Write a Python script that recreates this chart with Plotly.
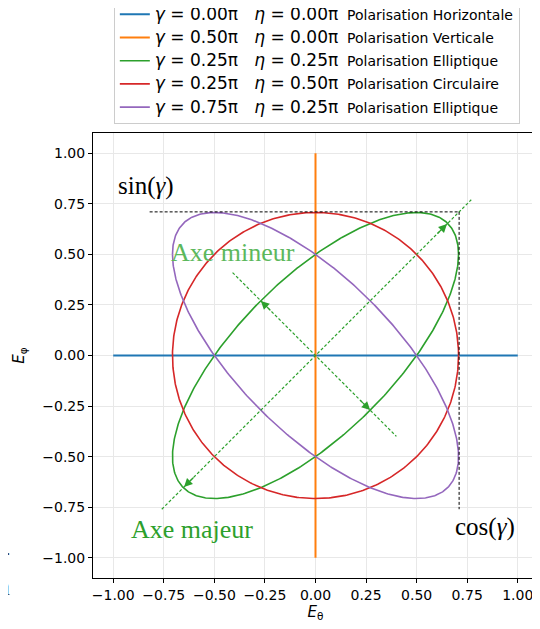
import numpy as np
import plotly.graph_objects as go

# Polarisation parameters (in units of pi)
gammas = [0.00, 0.50, 0.25, 0.25, 0.75]
etas = [0.00, 0.00, 0.25, 0.50, 0.25]
names = ["Polarisation Horizontale", "Polarisation Verticale", "Polarisation Elliptique",
         "Polarisation Circulaire", "Polarisation Elliptique"]
colors = ["#1f77b4", "#ff7f0e", "#2ca02c", "#d62728", "#9467bd"]
widths = [2, 2, 1.6, 1.6, 1.6]

# guide lines for the green ellipse
major_axis_x = [-0.76, 0.77]
major_axis_y = [-0.76, 0.77]
minor_axis_x = [-0.41, 0.40]
minor_axis_y = [0.41, -0.40]
sin_line_x = [-0.82, 0.71]
sin_line_y = [0.71, 0.71]
cos_line_x = [0.71, 0.71]
cos_line_y = [0.71, -0.76]
arrow_tips = [(0.65, 0.65), (-0.65, -0.65), (-0.27, 0.27), (0.27, -0.27)]
arrow_dirs = [(1, 1), (-1, -1), (-1, 1), (1, -1)]

ticks = [-1.0, -0.75, -0.5, -0.25, 0.0, 0.25, 0.5, 0.75, 1.0]

t = np.linspace(0, 2 * np.pi, 500)

fig = go.Figure()
for i, (g, e, name, c, w) in enumerate(zip(gammas, etas, names, colors, widths)):
    e_theta = np.cos(g * np.pi) * np.cos(t)
    e_phi = np.sin(g * np.pi) * np.cos(t + e * np.pi)
    label = (f"<span style='font-size:17px'><i>γ</i> = {g:.2f}π&nbsp;&nbsp;&nbsp;<i>η</i> = {e:.2f}π</span>"
             f"&nbsp;&nbsp;{name}")
    fig.add_trace(go.Scatter(x=e_theta, y=e_phi, mode="lines", name=label,
                             legendgroup=f"g{i}",
                             line=dict(color=c, width=w)))

green = "#2ca02c"
for xs, ys in [(major_axis_x, major_axis_y), (minor_axis_x, minor_axis_y)]:
    fig.add_trace(go.Scatter(x=xs, y=ys, mode="lines", showlegend=False,
                             line=dict(color=green, width=1.2, dash="3px,2px")))
for xs, ys in [(sin_line_x, sin_line_y), (cos_line_x, cos_line_y)]:
    fig.add_trace(go.Scatter(x=xs, y=ys, mode="lines", showlegend=False,
                             line=dict(color="black", width=1, dash="3px,2px")))

for (tx, ty), (dx, dy) in zip(arrow_tips, arrow_dirs):
    fig.add_annotation(x=tx, y=ty, ax=-dx * 11, ay=dy * 11, text="", showarrow=True,
                       arrowhead=2, arrowsize=1.4, arrowwidth=1.2, arrowcolor=green)

serif = "Liberation Serif"
fig.add_annotation(x=-0.84, y=0.84, text="sin(<i>γ</i>)", showarrow=False,
                   font=dict(family=serif, size=25, color="black"))
fig.add_annotation(x=0.84, y=-0.85, text="cos(<i>γ</i>)", showarrow=False,
                   font=dict(family=serif, size=25, color="black"))
fig.add_annotation(x=-0.41, y=0.51, text="Axe mineur", showarrow=False,
                   font=dict(family=serif, size=26, color="#5cb85c"))
fig.add_annotation(x=-0.61, y=-0.86, text="Axe majeur", showarrow=False,
                   font=dict(family=serif, size=26, color=green))

# bits of surrounding page text cut by the crop (figure starts 8px in from the page)
for txt, xp, yp in [("i-", 4, 560), ("n", 4, 595)]:
    fig.add_annotation(xref="paper", yref="paper", x=(xp - 85) / 445, y=(570 - yp) / 445,
                       xanchor="right", text=txt, showarrow=False,
                       font=dict(family=serif, size=26, color="#333333"))

axis_style = dict(range=[-1.1, 1.1], tickvals=ticks, tickformat=".2f",
                  showgrid=True, gridcolor="#e8e8e8", gridwidth=1, zeroline=False,
                  ticks="outside", ticklen=4, tickcolor="black",
                  showline=True, linecolor="black", linewidth=1, mirror=True,
                  tickfont=dict(family="DejaVu Sans", size=14, color="black"))

fig.update_layout(
    width=532, height=621,
    margin=dict(l=85, r=2, t=125, b=51, autoexpand=False),
    paper_bgcolor="white", plot_bgcolor="white",
    font=dict(family="DejaVu Sans", size=14, color="black"),
    xaxis=dict(axis_style, title=dict(text="<i>E</i><sub>θ</sub>", standoff=4,
                                      font=dict(size=15))),
    yaxis=dict(axis_style, title=dict(text="<i>E</i><sub>φ</sub>", standoff=14,
                                      font=dict(size=15))),
    legend=dict(x=0.503, xanchor="center", y=1.304, yanchor="top",
                bordercolor="#cccccc", borderwidth=1, bgcolor="white",
                font=dict(family="DejaVu Sans", size=14, color="black"),
                tracegroupgap=2),
    showlegend=True,
)

fig.write_html("out.html")
